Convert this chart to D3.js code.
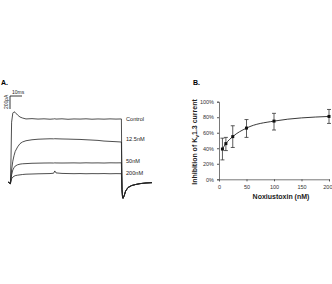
<!DOCTYPE html>
<html><head><meta charset="utf-8">
<script src="https://cdn.jsdelivr.net/npm/d3@7"></script>
<style>body{margin:0;background:#fff}svg{display:block}text{font-family:"Liberation Sans",Arial,sans-serif}</style>
</head><body>
<script>
// ---- Panel A: current traces (time in ms, current in pA) ----
const traceTime = [0,2,2.5,3,4,5,6,8,10,12,15,20,25,30,35,38,39,40,45,50,55,60,65,70,75,80,85,90,94.5,95,95.5,96,97,98,100,103,106,110,115,120];
const traceNames = ["Control","12.5nM","50nM","200nM"];
const tail = [-120,-246,-250,-200,-140,-85,-55,-40,-25,-15,-10];
const traceControl = [0,-25,370,920,1060,1080,1070,1030,1000,985,970,975,968,972,966,970,973,968,972,965,970,968,972,966,970,967,971,968,970].concat(tail);
const trace125 = [0,-25,60,185,320,405,470,540,590,615,635,650,658,662,665,664,666,665,662,660,657,655,650,645,640,630,625,620,615].concat(tail);
const trace50 = [0,-25,35,110,185,220,245,265,275,280,283,288,290,292,293,292,294,293,292,293,294,292,295,293,294,292,295,294,295].concat(tail);
const trace200 = [0,-25,12,50,75,88,98,105,110,115,120,123,126,128,130,135,170,140,132,130,128,130,127,129,128,130,127,129,128].concat(tail);
const traceValues = [traceControl, trace125, trace50, trace200];
const traceLabelY = [970, 660, 320, 135];
const scaleBarMs = 10, scaleBarPA = 200;

// ---- Panel B: dose response ----
const conc = [6.25, 12.5, 25, 50, 100, 200];
const inhibition = [39, 46, 55, 66, 75, 81];
const errLow = [25, 37, 41, 54, 63.5, 72];
const errHigh = [53, 54, 69, 77, 85, 90];
const yTicks = [0, 20, 40, 60, 80, 100];
const xTicks = [0, 50, 100, 150, 200];

const W = 332, H = 284;
const svg = d3.select("body").append("svg").attr("width", W).attr("height", H);

// Panel A
const tx = d3.scaleLinear().domain([0, 120]).range([8, 152]);
const ty = d3.scaleLinear().domain([0, 200]).range([182, 169]);
svg.append("text").attr("x", 1).attr("y", 85).attr("font-size", 7).attr("font-weight", "bold").text("A.");
const line = d3.line().x((d, i) => tx(traceTime[i])).y(d => ty(d));
traceValues.forEach((vals, k) => {
  svg.append("path").attr("d", line(vals)).attr("fill", "none").attr("stroke", "#222").attr("stroke-width", 0.8);
  svg.append("text").attr("x", 126).attr("y", ty(traceLabelY[k]) + 2).attr("font-size", 5.6).attr("fill", "#222").text(traceNames[k]);
});
// scale bar
const sbx = 10, sby = 96;
svg.append("path").attr("d", `M${sbx + tx(scaleBarMs) - tx(0)},${sby}H${sbx}V${sby + ty(0) - ty(scaleBarPA)}`)
  .attr("fill", "none").attr("stroke", "#222").attr("stroke-width", 0.9);
svg.append("text").attr("x", sbx + 2).attr("y", sby - 2).attr("font-size", 5).attr("fill", "#222").text("10ms");
svg.append("text").attr("transform", `translate(${sbx - 2},${sby + 13}) rotate(-90)`).attr("font-size", 5).attr("fill", "#222").text("200pA");

// Panel B
const x = d3.scaleLinear().domain([0, 200]).range([219, 329]);
const y = d3.scaleLinear().domain([0, 100]).range([179.3, 101.7]);
svg.append("text").attr("x", 193).attr("y", 85).attr("font-size", 7).attr("font-weight", "bold").text("B.");
const yAxis = svg.append("g").attr("transform", "translate(219,0)")
  .call(d3.axisLeft(y).tickValues(yTicks).tickSize(2).tickFormat(d => d + "%"));
const xAxis = svg.append("g").attr("transform", "translate(0,179.3)")
  .call(d3.axisBottom(x).tickValues(xTicks).tickSize(2));
[yAxis, xAxis].forEach(g => {
  g.select(".domain").attr("stroke", "#555").attr("stroke-width", 0.8);
  g.selectAll(".tick line").attr("stroke", "#555");
  g.selectAll("text").attr("font-size", 5.5).attr("fill", "#333").attr("font-family", "Liberation Sans, Arial, sans-serif");
});
xAxis.selectAll("text").attr("dy", "0.9em");
xAxis.selectAll(".tick").filter(d => d === 200).select("text").attr("text-anchor", "end").attr("x", 3);
svg.append("text").attr("x", 281).attr("y", 199).attr("text-anchor", "middle").attr("font-size", 7).attr("font-weight", "bold").attr("fill", "#222").text("Noxiustoxin (nM)");
const yt = svg.append("text").attr("transform", "translate(197,142) rotate(-90)").attr("text-anchor", "middle")
  .attr("font-size", 7).attr("font-weight", "bold").attr("fill", "#222");
yt.append("tspan").text("Inhibition of K");
yt.append("tspan").attr("font-size", 5).attr("dy", 1.5).text("v");
yt.append("tspan").attr("dy", -1.5).text("1.3 current");

const pts = conc.map((c, i) => ({c, v: inhibition[i], lo: errLow[i], hi: errHigh[i]}));
svg.append("path").attr("d", d3.line().x(d => x(d.c)).y(d => y(d.v)).curve(d3.curveMonotoneX)(pts))
  .attr("fill", "none").attr("stroke", "#222").attr("stroke-width", 0.9);
const eb = svg.append("g").attr("stroke", "#333").attr("stroke-width", 0.8);
pts.forEach(d => {
  eb.append("line").attr("x1", x(d.c)).attr("x2", x(d.c)).attr("y1", y(d.lo)).attr("y2", y(d.hi));
  eb.append("line").attr("x1", x(d.c) - 2).attr("x2", x(d.c) + 2).attr("y1", y(d.lo)).attr("y2", y(d.lo));
  eb.append("line").attr("x1", x(d.c) - 2).attr("x2", x(d.c) + 2).attr("y1", y(d.hi)).attr("y2", y(d.hi));
});
svg.append("g").selectAll("rect").data(pts).join("rect")
  .attr("x", d => x(d.c) - 1.5).attr("y", d => y(d.v) - 1.5).attr("width", 3).attr("height", 3).attr("fill", "#111");
</script>
</body></html>
